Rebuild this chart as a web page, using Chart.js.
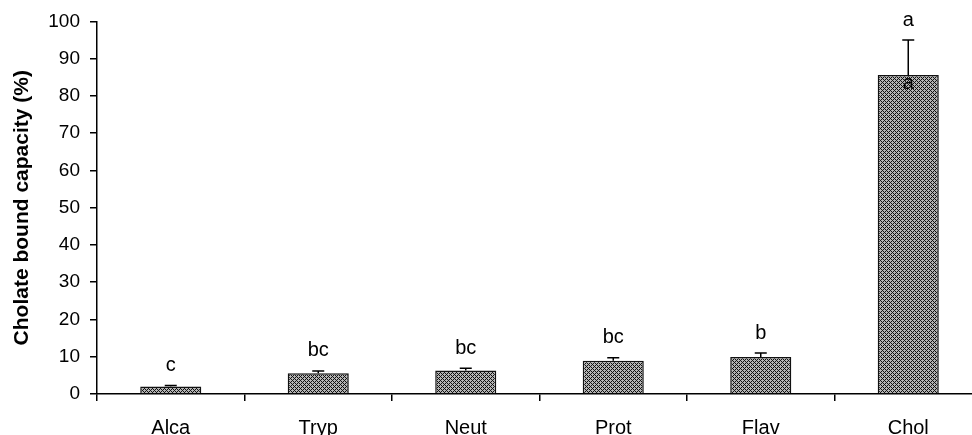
<!DOCTYPE html>
<html>
<head>
<meta charset="utf-8">
<script src="https://cdn.jsdelivr.net/npm/chart.js@4"></script>
<style>
  html, body { margin: 0; padding: 0; background: #fff; overflow: hidden; }
  #wrap { width: 1000px; height: 435px; }
</style>
</head>
<body>
<div id="wrap"><canvas id="bindChart" width="1000" height="435"></canvas></div>
<script>
const categories = ['Alca', 'Tryp', 'Neut', 'Prot', 'Flav', 'Chol'];
const capacity = [2.0, 5.6, 6.3, 8.9, 9.9, 85.6];
const errors = [0.3, 0.6, 0.6, 0.8, 1.1, 9.4];
const letters = ['c', 'bc', 'bc', 'bc', 'b', 'a'];
const innerLetters = ['', '', '', '', '', 'a'];
const yTicks = [0, 10, 20, 30, 40, 50, 60, 70, 80, 90, 100];

// crosshatch fill like the original bars
function hatch() {
    const c = document.createElement('canvas');
    c.width = 4; c.height = 4;
    const g = c.getContext('2d');
    g.fillStyle = '#b4b4b4';
    g.fillRect(0, 0, 4, 4);
    g.fillStyle = '#111';
    for (let x = 0; x < 4; x++) {
        for (let y = 0; y < 4; y++) {
            if ((x + y) % 4 === 0 || (x - y + 4) % 4 === 0) g.fillRect(x, y, 1, 1);
        }
    }
    return g.createPattern(c, 'repeat');
}

const errorBars = {
    id: 'errorBars',
    afterDatasetsDraw(chart) {
        const { ctx, scales: { x, y } } = chart;
        ctx.save();
        ctx.strokeStyle = '#000';
        ctx.lineWidth = 1.5;
        ctx.fillStyle = '#000';
        ctx.textAlign = 'center';
        ctx.textBaseline = 'middle';
        ctx.font = '20px "Liberation Sans", Arial, sans-serif';
        capacity.forEach((v, i) => {
            const px = x.getPixelForValue(i);
            const top = y.getPixelForValue(v);
            const cap = y.getPixelForValue(v + errors[i]);
            ctx.beginPath();
            ctx.moveTo(px, top);
            ctx.lineTo(px, cap);
            ctx.moveTo(px - 6, cap);
            ctx.lineTo(px + 6, cap);
            ctx.stroke();
            ctx.fillText(letters[i], px, cap - 20);
            if (innerLetters[i]) ctx.fillText(innerLetters[i], px, top + 8);
        });
        ctx.restore();
    }
};

new Chart(document.getElementById('bindChart'), {
    type: 'bar',
    data: {
        labels: categories,
        datasets: [{
            data: capacity,
            backgroundColor: hatch(),
            borderColor: '#111',
            borderWidth: 1.5,
            borderSkipped: 'bottom',
            barPercentage: 0.414,
            categoryPercentage: 1
        }]
    },
    options: {
        responsive: false,
        animation: false,
        layout: { padding: { top: 21, right: 18, left: 0, bottom: 0 } },
        plugins: {
            legend: { display: false },
            tooltip: { enabled: false }
        },
        scales: {
            x: {
                afterFit: s => { s.height = 41; },
                grid: { drawOnChartArea: false, drawTicks: true, tickLength: 7, color: '#000', lineWidth: 1.5, offset: true },
                border: { color: '#000', width: 1.5 },
                ticks: {
                    color: '#000',
                    padding: 15,
                    font: { family: '"Liberation Sans", Arial, sans-serif', size: 20 }
                }
            },
            y: {
                min: 0,
                max: 100,
                afterFit: s => { s.width = 97; },
                afterBuildTicks: s => { s.ticks = yTicks.map(v => ({ value: v })); },
                grid: { drawOnChartArea: false, drawTicks: true, tickLength: 7, color: '#000', lineWidth: 1.5 },
                border: { color: '#000', width: 1.5 },
                ticks: {
                    color: '#000',
                    padding: 10,
                    font: { family: '"Liberation Sans", Arial, sans-serif', size: 19 }
                },
                title: {
                    display: true,
                    text: 'Cholate bound capacity (%)',
                    color: '#000',
                    padding: { top: 10, bottom: 0 },
                    font: { family: '"Liberation Sans", Arial, sans-serif', size: 21, weight: 'bold' }
                }
            }
        }
    },
    plugins: [errorBars]
});
</script>
</body>
</html>
